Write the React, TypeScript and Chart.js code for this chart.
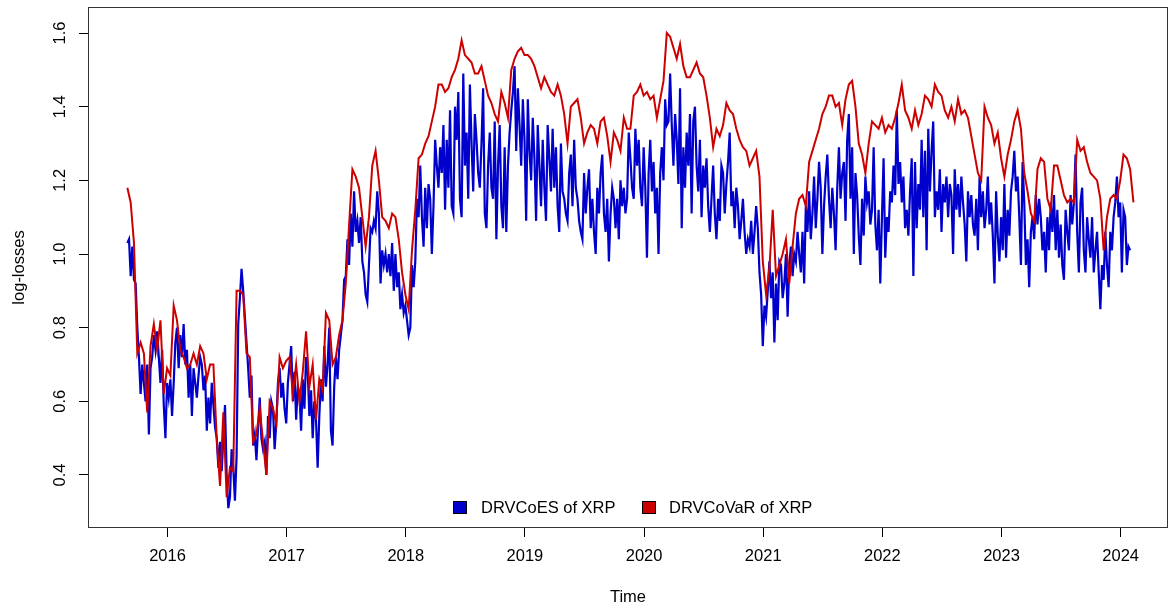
import React, { useEffect, useRef } from "react";
import { Chart, registerables } from "chart.js";

Chart.register(...registerables);

// ---- data ----
const seriesLabels = ["DRVCoES of XRP", "DRVCoVaR of XRP"];
const seriesColors = ["#0000CD", "#CD0000"];
const xTickValues = [2016, 2017, 2018, 2019, 2020, 2021, 2022, 2023, 2024];
const yTickValues = [0.4, 0.6, 0.8, 1.0, 1.2, 1.4, 1.6];
const xTitle = "Time";
const yTitle = "log-losses";

// time index of the series (decimal years, regular sampling)
const seriesStart = 2015.663;
const coesPerYear = 72;
const covarPerYear = 36;

// DRVCoES of XRP (blue)
const coesValues = [
  1.03, 1.04, 0.94, 1.02, 0.93, 0.92, 0.80, 0.72, 0.62, 0.70,
  0.65, 0.60, 0.70, 0.51, 0.69, 0.72, 0.78, 0.74, 0.79, 0.72,
  0.65, 0.74, 0.59, 0.50, 0.65, 0.61, 0.66, 0.56, 0.65, 0.76,
  0.80, 0.69, 0.78, 0.72, 0.81, 0.70, 0.74, 0.61, 0.70, 0.56,
  0.69, 0.65, 0.61, 0.67, 0.72, 0.70, 0.63, 0.67, 0.52, 0.61,
  0.54, 0.65, 0.59, 0.53, 0.50, 0.42, 0.49, 0.41, 0.50, 0.59,
  0.40, 0.31, 0.34, 0.47, 0.42, 0.33, 0.45, 0.81, 0.88, 0.96,
  0.90, 0.83, 0.76, 0.69, 0.61, 0.67, 0.48, 0.51, 0.44, 0.53,
  0.61, 0.50, 0.47, 0.49, 0.40, 0.56, 0.50, 0.60, 0.58, 0.47,
  0.54, 0.65, 0.69, 0.61, 0.65, 0.58, 0.54, 0.65, 0.70,
  0.75, 0.60, 0.68, 0.55, 0.64, 0.62, 0.52, 0.66, 0.58, 0.72,
  0.68, 0.56, 0.63, 0.50, 0.60, 0.55, 0.42, 0.56, 0.66, 0.60,
  0.75, 0.64, 0.70, 0.80, 0.52, 0.48, 0.64, 0.72, 0.66, 0.74, 0.78,
  0.82, 0.93, 0.94, 1.04, 0.97, 1.11, 1.02, 1.17, 1.06, 1.09,
  1.03, 1.10, 0.98, 0.95, 0.89, 0.87, 0.97, 1.07, 1.06, 1.09,
  1.07, 1.17, 1.11, 0.92, 1.01, 0.97, 1.00, 0.95, 1.00, 0.94,
  1.03, 0.90, 1.00, 0.91, 0.95, 0.85, 0.89, 0.84, 0.86, 0.82,
  0.78, 0.80, 0.97, 0.91, 0.98, 1.15, 1.10, 1.24, 1.10, 1.02,
  1.18, 1.07, 1.19, 1.15, 1.00, 1.13, 1.31, 1.24, 1.18, 1.29,
  1.22, 1.35, 1.12, 1.31, 1.18, 1.39, 1.13, 1.11, 1.40, 1.31,
  1.44, 1.15, 1.10, 1.49, 1.24, 1.33, 1.15, 1.46,
  1.30, 1.17, 1.38, 1.31, 1.22, 1.18, 1.30, 1.45, 1.11, 1.07,
  1.24, 1.33, 1.18, 1.15, 1.36, 1.04, 1.24, 1.35, 1.13, 1.07,
  1.29, 1.06, 1.24, 1.33, 1.39, 1.44, 1.51, 1.28, 1.45, 1.35,
  1.24, 1.42, 1.31, 1.09, 1.42, 1.28, 1.20, 1.37, 1.26, 1.09,
  1.35, 1.24, 1.13, 1.31, 1.18, 1.09, 1.35, 1.26, 1.17, 1.34,
  1.18, 1.29, 1.13, 1.06, 1.30, 1.17, 1.15, 1.11, 1.09, 1.22,
  1.27, 1.13, 1.31, 1.18, 1.15, 1.09, 1.06, 1.04, 1.22, 1.11,
  1.18, 1.23, 1.07, 1.15, 1.06, 1.00, 1.18, 1.11, 1.22, 1.27,
  1.11, 1.06, 1.15, 0.98, 1.11, 1.18, 1.15, 1.07, 1.15, 1.04,
  1.20, 1.13, 1.18, 1.11, 1.15, 1.33, 1.26, 1.18, 1.15, 1.34,
  1.24, 1.31, 1.18, 1.13, 1.29, 1.18, 0.99, 1.22, 1.31, 1.17,
  1.25, 1.11, 1.18, 1.00, 1.22, 1.29, 1.20, 1.42, 1.35, 1.36,
  1.49, 1.35, 1.24, 1.38, 1.31, 1.19, 1.45, 1.07, 1.29, 1.18,
  1.33, 1.24, 1.38, 1.11, 1.36, 1.40, 1.24, 1.17, 1.31, 1.10,
  1.24, 1.18, 1.26, 1.13, 1.06, 1.15, 1.24, 1.11, 1.04, 1.15,
  1.09, 1.24, 1.22, 1.11, 1.19, 1.25, 1.33, 1.13, 1.17, 1.07,
  1.18, 1.13, 1.04, 1.09, 1.15, 1.06, 1.00, 1.04, 1.02, 1.09,
  1.00, 1.06, 1.13, 1.07, 0.95, 0.89, 0.75, 0.86, 0.83, 0.90,
  0.98, 0.88, 0.95, 0.76, 0.92, 0.82, 0.98, 0.97, 0.88, 0.92,
  1.00, 0.83, 0.97, 1.02, 0.94, 1.00, 0.98, 1.06, 1.00, 0.95,
  1.06, 0.92, 1.13, 1.06, 1.17, 1.04, 1.11, 1.21, 1.07, 1.15,
  1.25, 1.18, 1.00, 1.13, 1.21, 1.27, 1.15, 1.07, 1.18, 1.11,
  1.01, 1.18, 1.29, 1.15, 1.22, 1.25, 1.09, 1.31, 1.38, 1.15,
  1.29, 1.00, 1.22, 1.16,
  1.05, 0.97, 1.15, 1.05, 1.21, 1.14, 1.17, 1.08, 1.12, 1.29,
  1.08, 1.01, 1.12, 0.92, 1.10, 1.26, 0.99, 1.10, 1.06, 1.17,
  1.14, 1.24, 1.16, 1.39, 1.19, 1.25, 1.14, 1.21, 1.07, 1.12,
  1.05, 1.17, 1.26, 0.94, 1.25, 1.07, 1.19, 1.12, 1.31, 1.10,
  1.28, 1.01, 1.34, 1.17, 1.28, 1.36, 1.10, 1.17, 1.12, 1.23,
  1.06, 1.19, 1.14, 1.21, 1.10, 1.19, 1.16, 1.00, 1.23, 1.12,
  1.19, 1.10, 1.21, 1.14, 1.08, 0.98, 1.17, 1.10, 1.16, 1.08,
  1.05, 1.15, 1.01, 1.21, 1.10, 1.17, 1.07, 1.12, 1.21, 1.08,
  1.14, 1.05, 0.92, 1.17, 1.05, 0.98, 1.10, 1.01, 1.19, 0.99,
  1.12, 1.05, 1.17, 1.21, 1.28, 1.17,
  1.21, 1.10, 0.97, 1.25, 1.14, 0.97, 1.04, 0.91, 1.06, 1.10,
  1.04, 1.16, 1.08, 1.15, 1.10, 1.01, 1.06, 0.95, 1.10, 1.01,
  1.14, 1.06, 1.16, 1.01, 1.12, 0.99, 1.08, 0.97, 0.93, 1.12,
  1.06, 1.01, 1.16, 1.08, 1.14, 1.27, 1.06, 0.95, 1.14, 1.18,
  1.01, 0.95, 1.10, 1.04, 0.99, 1.10, 0.95, 1.01, 1.06, 0.95,
  0.85, 0.97, 0.93, 1.06, 0.97, 0.91, 1.06, 1.01, 1.10, 1.14,
  1.21, 1.10, 1.14, 0.95, 1.12, 1.10, 0.97, 1.02, 1.01,
];

// DRVCoVaR of XRP (red)
const covarValues = [
  1.18, 1.14, 1.03, 0.73, 0.76, 0.73, 0.57, 0.75, 0.81, 0.74,
  0.82, 0.62, 0.69, 0.67, 0.86, 0.82, 0.74, 0.72, 0.69, 0.70,
  0.73, 0.70, 0.75, 0.73, 0.66, 0.70, 0.70, 0.50, 0.37, 0.57,
  0.34, 0.42, 0.41, 0.90, 0.90, 0.89, 0.73, 0.72, 0.49, 0.51,
  0.58, 0.49, 0.40, 0.60, 0.58, 0.54, 0.72, 0.69, 0.71, 0.72,
  0.62, 0.70, 0.60, 0.68, 0.79, 0.64, 0.70, 0.55, 0.66, 0.63,
  0.84, 0.82, 0.70, 0.72, 0.78, 0.82, 0.92, 1.08, 1.23, 1.21,
  1.18, 1.10, 1.02, 1.10, 1.24, 1.28, 1.20, 1.10, 1.09, 1.07,
  1.11, 1.10, 1.04, 0.95, 0.89, 0.85, 1.01, 1.12, 1.26, 1.27,
  1.30, 1.32, 1.36, 1.40, 1.46, 1.46, 1.44, 1.45, 1.48, 1.50,
  1.53, 1.58, 1.54, 1.53, 1.52, 1.49, 1.49, 1.51, 1.47, 1.43,
  1.41, 1.38, 1.36, 1.44, 1.41, 1.37, 1.50, 1.53, 1.55, 1.56,
  1.54, 1.54, 1.53, 1.51, 1.48, 1.45, 1.48, 1.46, 1.44, 1.43,
  1.46, 1.43, 1.38, 1.30, 1.40, 1.41, 1.42, 1.37, 1.30, 1.33,
  1.35, 1.34, 1.30, 1.36, 1.37, 1.32, 1.25, 1.33, 1.31, 1.28,
  1.37, 1.34, 1.34, 1.43, 1.44, 1.46, 1.43, 1.44, 1.42, 1.43,
  1.37, 1.42, 1.47, 1.60, 1.59, 1.56, 1.53, 1.57, 1.51, 1.48,
  1.48, 1.50, 1.52, 1.49, 1.48, 1.43, 1.37, 1.29, 1.34, 1.32,
  1.35, 1.41, 1.39, 1.38, 1.34, 1.31, 1.29, 1.28, 1.24, 1.26,
  1.28, 1.21, 0.98, 0.89, 0.96, 1.12, 0.94, 0.97, 1.00, 1.04,
  0.92, 1.02, 1.11, 1.15, 1.16, 1.13, 1.25, 1.28, 1.31, 1.34,
  1.38, 1.40, 1.43, 1.43, 1.40, 1.41, 1.35, 1.42, 1.46, 1.47,
  1.40, 1.30, 1.27, 1.22, 1.30, 1.36, 1.35, 1.34, 1.37, 1.33,
  1.35, 1.34, 1.37, 1.41, 1.46, 1.39, 1.37, 1.34, 1.39, 1.35,
  1.38, 1.43, 1.42, 1.40, 1.46, 1.44, 1.43, 1.39, 1.37, 1.40,
  1.36, 1.42, 1.38, 1.39, 1.37, 1.32, 1.27, 1.22, 1.20, 1.40,
  1.37, 1.35, 1.30, 1.33, 1.26, 1.21, 1.27, 1.31, 1.36, 1.39,
  1.34, 1.22, 1.17, 1.11, 1.09, 1.23, 1.26, 1.25, 1.15, 1.12,
  1.24, 1.24, 1.20, 1.16, 1.14, 1.15, 1.14, 1.31, 1.28, 1.29,
  1.25, 1.22, 1.21, 1.20, 1.15, 1.01, 1.10, 1.15, 1.16, 1.15,
  1.20, 1.27, 1.26, 1.23, 1.14,
];

const FONT_FAMILY = "'Liberation Sans', Arial, Helvetica, sans-serif";
const FONT_SIZE = 16.5;

function toPoints(values: number[], perYear: number) {
  return values.map((v, i) => ({ x: seriesStart + i / perYear, y: v }));
}

export default function App() {
  const canvasRef = useRef<HTMLCanvasElement | null>(null);

  useEffect(() => {
    const canvas = canvasRef.current;
    if (!canvas) return;
    const font = { family: FONT_FAMILY, size: FONT_SIZE, lineHeight: 1.2 };

    const boxPlugin = {
      id: "plotBox",
      afterDraw(chart: any) {
        const { ctx, chartArea: a } = chart;
        ctx.save();
        ctx.strokeStyle = "#333";
        ctx.lineWidth = 1;
        ctx.strokeRect(a.left - 0.5, a.top - 0.5, a.right - a.left + 1, a.bottom - a.top + 1);
        ctx.restore();
      },
    };

    const zeroPad = (s: any) => {
      s.paddingLeft = 0;
      s.paddingRight = 0;
      s.paddingTop = 0;
      s.paddingBottom = 0;
    };

    const chart = new Chart(canvas, {
      type: "line",
      data: {
        datasets: [
          {
            label: seriesLabels[0],
            data: toPoints(coesValues, coesPerYear),
            borderColor: seriesColors[0],
            backgroundColor: seriesColors[0],
            borderWidth: 2.2,
            pointRadius: 0,
            tension: 0,
            order: 1,
          },
          {
            label: seriesLabels[1],
            data: toPoints(covarValues, covarPerYear),
            borderColor: seriesColors[1],
            backgroundColor: seriesColors[1],
            borderWidth: 2,
            pointRadius: 0,
            tension: 0,
            order: 0,
          },
        ],
      },
      options: {
        animation: false,
        responsive: false,
        maintainAspectRatio: false,
        layout: { padding: { left: 0, top: 8, right: 1, bottom: 0 } },
        plugins: {
          legend: { display: false },
          tooltip: { enabled: false },
        },
        scales: {
          x: {
            type: "linear",
            position: "bottom",
            min: 2015.341,
            max: 2024.389,
            afterBuildTicks: (s: any) => {
              s.ticks = xTickValues.map((value) => ({ value }));
            },
            afterFit: (s: any) => {
              s.height = 83;
              zeroPad(s);
            },
            ticks: {
              autoSkip: false,
              maxRotation: 0,
              minRotation: 0,
              padding: 10,
              color: "#000",
              font,
              callback: (v: any) => String(v),
            },
            grid: {
              display: true,
              drawOnChartArea: false,
              drawTicks: true,
              tickLength: 10,
              tickColor: "#000",
              tickWidth: 1,
            },
            border: { display: false },
            title: {
              display: true,
              text: xTitle,
              color: "#000",
              font,
              padding: { top: 0, bottom: 3 },
            },
          },
          y: {
            type: "linear",
            position: "left",
            min: 0.2588,
            max: 1.6679,
            afterBuildTicks: (s: any) => {
              s.ticks = yTickValues.map((value) => ({ value }));
            },
            afterFit: (s: any) => {
              s.width = 89;
              zeroPad(s);
            },
            ticks: {
              autoSkip: false,
              minRotation: 90,
              maxRotation: 90,
              crossAlign: "center",
              padding: 7.5,
              color: "#000",
              font,
              callback: (v: any) => Number(v).toFixed(1),
            },
            grid: {
              display: true,
              drawOnChartArea: false,
              drawTicks: true,
              tickLength: 10,
              tickColor: "#000",
              tickWidth: 1,
            },
            border: { display: false },
            title: {
              display: true,
              text: yTitle,
              color: "#000",
              font,
              padding: { top: 10, bottom: 0 },
            },
          },
        },
      } as any,
      plugins: [boxPlugin],
    });

    return () => {
      chart.destroy();
    };
  }, []);

  const legendBoxLeft = [453, 642];
  const legendTextLeft = [481, 669];

  return (
    <div style={{ position: "absolute", left: 0, top: 0, width: 1168, height: 610, background: "#fff" }}>
      <canvas ref={canvasRef} width={1168} height={610} style={{ display: "block", width: 1168, height: 610 }} />
      {seriesLabels.map((label, i) => (
        <React.Fragment key={label}>
          <div
            style={{
              position: "absolute",
              left: legendBoxLeft[i],
              top: 501,
              width: 12,
              height: 11,
              background: seriesColors[i],
              border: "1px solid #000",
            }}
          />
          <div
            style={{
              position: "absolute",
              left: legendTextLeft[i],
              top: 497,
              height: 20,
              lineHeight: "20px",
              fontFamily: FONT_FAMILY,
              fontSize: FONT_SIZE,
              color: "#000",
              whiteSpace: "nowrap",
            }}
          >
            {label}
          </div>
        </React.Fragment>
      ))}
    </div>
  );
}
